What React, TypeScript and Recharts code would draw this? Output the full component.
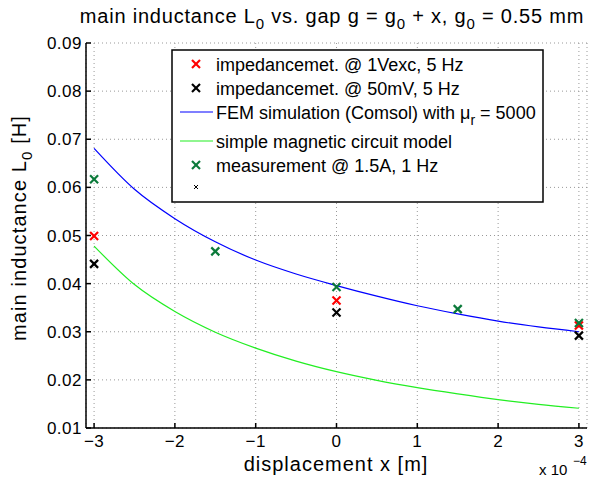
import React from "react";
import { ComposedChart, Line, Scatter, XAxis, YAxis, CartesianGrid } from "recharts";

// displacement in units of 1e-4 m
const modelX = [-3, -2.5, -2, -1.5, -1, -0.5, 0, 0.5, 1, 1.5, 2, 2.5, 3];
const femL = [0.0681, 0.0596, 0.0535, 0.0487, 0.0449, 0.042, 0.0396, 0.0374, 0.0354, 0.0337, 0.0322, 0.031, 0.03];
const simpleL = [0.0478, 0.0398, 0.0342, 0.0299, 0.0266, 0.0239, 0.0217, 0.0199, 0.0184, 0.0171, 0.0159, 0.0149, 0.0141];

const impX = [-3, 0, 3];
const imp1VL = [0.0499, 0.0365, 0.0313];
const imp50mVL = [0.0441, 0.034, 0.0292];

const measX = [-3, -1.5, 0, 1.5, 3];
const measL = [0.0617, 0.0467, 0.0393, 0.0347, 0.0318];

const xTicks = [-3, -2, -1, 0, 1, 2, 3];
const yTicks = [0.01, 0.02, 0.03, 0.04, 0.05, 0.06, 0.07, 0.08, 0.09];

const FONT = "'Liberation Sans', Arial, sans-serif";
const RED = "#ff0000";
const BLACK = "#000000";
const GREEN_MK = "#0b7a3a";
const BLUE = "#0000ff";
const GREEN_LN = "#22ee22";

const pts = (xs: number[], ys: number[]) => xs.map((x, i) => ({ x, y: ys[i] }));

const cross = (color: string, s = 4, w = 2.2) => (props: any) => {
  const { cx, cy } = props;
  return (
    <g>
      <line x1={cx - s} y1={cy - s} x2={cx + s} y2={cy + s} stroke={color} strokeWidth={w} />
      <line x1={cx - s} y1={cy + s} x2={cx + s} y2={cy - s} stroke={color} strokeWidth={w} />
    </g>
  );
};

const fmtX = (v: number) => (v < 0 ? "\u2212" + Math.abs(v) : String(v));

const LegendBox = () => {
  const rows = [65, 89, 113, 142, 166, 188].map((y) => y - 50);
  const textX = 45;
  const fs = 18;
  const mk = (y: number, color: string, s = 4, w = 2.2) => (
    <g>
      <line x1={25 - s} y1={y - s} x2={25 + s} y2={y + s} stroke={color} strokeWidth={w} />
      <line x1={25 - s} y1={y + s} x2={25 + s} y2={y - s} stroke={color} strokeWidth={w} />
    </g>
  );
  return (
    <svg
      width={373}
      height={154}
      style={{ position: "absolute", left: 171, top: 49, fontFamily: FONT }}
    >
      <rect x={1} y={1} width={371} height={152} fill="#fff" stroke="#000" strokeWidth={1.5} />
      {mk(rows[0], RED)}
      <text x={textX} y={rows[0] + 7} fontSize={fs}>impedancemet. @ 1Vexc, 5 Hz</text>
      {mk(rows[1], BLACK)}
      <text x={textX} y={rows[1] + 7} fontSize={fs}>impedancemet. @ 50mV, 5 Hz</text>
      <line x1={9} x2={42} y1={rows[2]} y2={rows[2]} stroke={BLUE} strokeWidth={1.2} />
      <text x={textX} y={rows[2] + 7} fontSize={fs}>
        FEM simulation (Comsol) with μ
        <tspan dy={6} fontSize={14}>r</tspan>
        <tspan dy={-6}> = 5000</tspan>
      </text>
      <line x1={9} x2={42} y1={rows[3]} y2={rows[3]} stroke={GREEN_LN} strokeWidth={1.2} />
      <text x={textX} y={rows[3] + 7} fontSize={fs}>simple magnetic circuit model</text>
      {mk(rows[4], GREEN_MK)}
      <text x={textX} y={rows[4] + 7} fontSize={fs}>measurement @ 1.5A, 1 Hz</text>
      {mk(rows[5], BLACK, 2, 1)}
    </svg>
  );
};

export default function App() {
  return (
    <div style={{ position: "absolute", left: 0, top: 0, width: 596, height: 479, background: "#fff", fontFamily: FONT }}>
      <ComposedChart width={596} height={479} margin={{ top: 43, right: 9, bottom: 0, left: 0 }}>
        <CartesianGrid stroke="#999" strokeDasharray="1 3" />
        <XAxis
          dataKey="x"
          type="number"
          domain={[-3.1, 3.1]}
          ticks={xTicks}
          tickFormatter={fmtX}
          allowDataOverflow
          height={51}
          tickSize={-5}
          tickMargin={12}
          stroke="#000"
          strokeWidth={1.5}
          tick={{ fontSize: 17, fill: "#000", fontFamily: FONT, letterSpacing: 0.5 }}
        />
        <XAxis
          xAxisId="top"
          orientation="top"
          dataKey="x"
          type="number"
          domain={[-3.1, 3.1]}
          ticks={xTicks}
          allowDataOverflow
          height={0}
          tick={false}
          stroke="#000"
          strokeWidth={1.5}
        />
        <YAxis
          dataKey="y"
          type="number"
          domain={[0.01, 0.09]}
          ticks={yTicks}
          tickFormatter={(v: number) => v.toFixed(2)}
          allowDataOverflow
          width={86}
          tickSize={-5}
          tickMargin={9}
          stroke="#000"
          strokeWidth={1.5}
          tick={{ fontSize: 17, fill: "#000", fontFamily: FONT, letterSpacing: 0.5 }}
        />
        <YAxis
          yAxisId="right"
          orientation="right"
          dataKey="y"
          type="number"
          domain={[0.01, 0.09]}
          ticks={yTicks}
          allowDataOverflow
          width={0}
          tick={false}
          stroke="#000"
          strokeWidth={1.5}
        />
        <Scatter data={pts(impX, imp1VL)} dataKey="y" shape={cross(RED)} isAnimationActive={false} />
        <Scatter data={pts(impX, imp50mVL)} dataKey="y" shape={cross(BLACK)} isAnimationActive={false} />
        <Line data={pts(modelX, femL)} dataKey="y" type="monotone" stroke={BLUE} strokeWidth={1.2} dot={false} isAnimationActive={false} />
        <Line data={pts(modelX, simpleL)} dataKey="y" type="monotone" stroke={GREEN_LN} strokeWidth={1.2} dot={false} isAnimationActive={false} />
        <Scatter data={pts(measX, measL)} dataKey="y" shape={cross(GREEN_MK)} isAnimationActive={false} />
      </ComposedChart>

      <svg width={596} height={479} style={{ position: "absolute", left: 0, top: 0, pointerEvents: "none", fontFamily: FONT }}>
        <text x={332} y={23} fontSize={20} letterSpacing={0.8} textAnchor="middle">
          main inductance L
          <tspan dy={6} fontSize={15}>0</tspan>
          <tspan dy={-6}> vs. gap g = g</tspan>
          <tspan dy={6} fontSize={15}>0</tspan>
          <tspan dy={-6}> + x, g</tspan>
          <tspan dy={6} fontSize={15}>0</tspan>
          <tspan dy={-6}> = 0.55 mm</tspan>
        </text>
        <text x={336} y={471} fontSize={20} letterSpacing={1} textAnchor="middle">displacement x [m]</text>
        <text x={539} y={475} fontSize={15}>x 10</text>
        <text x={573} y={465} fontSize={12}>−4</text>
        <text transform="translate(26, 228) rotate(-90)" fontSize={20} letterSpacing={1.1} textAnchor="middle">
          main inductance L
          <tspan dy={6} fontSize={15}>0</tspan>
          <tspan dy={-6}>  [H]</tspan>
        </text>
      </svg>
      <LegendBox />
    </div>
  );
}
